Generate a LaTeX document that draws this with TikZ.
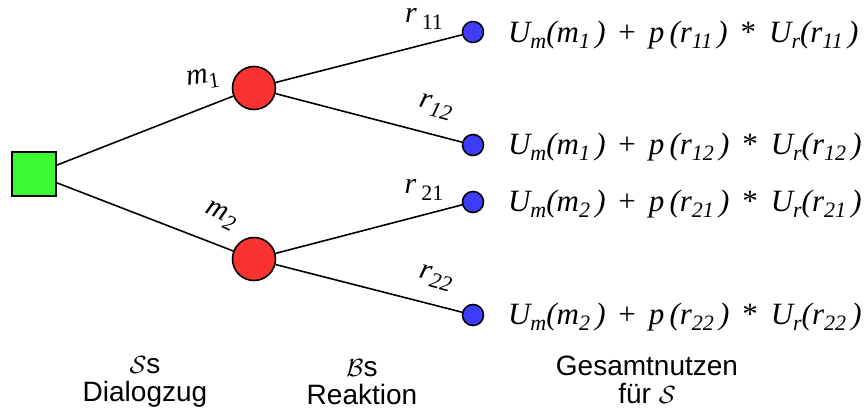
\documentclass[tikz,border=0pt]{standalone}
\usepackage{fontspec}
\setmainfont{Liberation Serif}
\setsansfont{Liberation Sans}
\usetikzlibrary{positioning}
\definecolor{rootgreen}{RGB}{60,250,50}
\definecolor{chancered}{RGB}{250,50,50}
\definecolor{leafblue}{RGB}{60,60,250}
\newcommand{\idx}[1]{\raisebox{-6.5pt}{\fontsize{22}{22}\selectfont #1}}
\newcommand{\nutzen}[3]{U\idx{m}(m\idx{#1}\,) {\upshape\,+\,} p\,(r\idx{#2}\,) {\upshape\,*\,} U\idx{r}(r\idx{#3}\,)}
\begin{document}
\begin{tikzpicture}[x=1pt,y=-1pt, line width=1.6pt,
    root/.style={draw, fill=rootgreen, minimum size=44pt, inner sep=0pt},
    chance/.style={circle, draw, fill=chancered, minimum size=43pt, inner sep=0pt},
    leaf/.style={circle, draw, fill=leafblue, minimum size=21pt, inner sep=0pt},
    formula/.style={font=\fontsize{31}{34}\selectfont\itshape, anchor=base west, inner sep=0pt},
    lbl/.style={font=\fontsize{30}{34}\selectfont\itshape, inner sep=0pt},
    caption/.style={font=\sffamily\fontsize{28}{28}\selectfont, align=center, inner sep=0pt}]
  \useasboundingbox (0,0) rectangle (867,410);

  % Knoten
  \node[root] (s) at (34,174) {};
  \node[chance] (m1) at (254,88) {};
  \node[chance] (m2) at (254,259) {};
  \node[leaf] (r11) at (473,32) {};
  \node[leaf] (r12) at (473,145) {};
  \node[leaf] (r21) at (473,202) {};
  \node[leaf] (r22) at (473,315) {};

  % Kanten
  \draw (s) -- (m1);
  \draw (s) -- (m2);
  \draw (m1) -- (r11);
  \draw (m1) -- (r12);
  \draw (m2) -- (r21);
  \draw (m2) -- (r22);

  % Kantenbeschriftung
  \node[lbl, rotate=8] (lm1) at (203,79) {m\idx{\upshape 1}};
  \node[lbl, rotate=-25] (lm2) at (221,216) {m\idx{2}};
  \node[lbl] (lr11) at (424,19) {r\,\idx{\upshape 11}};
  \node[lbl, rotate=-15] (lr12) at (436,107) {r\idx{12}};
  \node[lbl] (lr21) at (424,190) {r\,\idx{\upshape 21}};
  \node[lbl, rotate=-15] (lr22) at (436,278) {r\idx{22}};

  % Gesamtnutzen
  \node[formula] (u11) at ([xshift=23pt, yshift=-10pt]r11.east) {\nutzen{1}{11}{11}};
  \node[formula] (u12) at ([xshift=23pt, yshift=-9pt]r12.east) {\nutzen{1}{12}{12}};
  \node[formula] (u21) at ([xshift=23pt, yshift=-9pt]r21.east) {\nutzen{2}{21}{21}};
  \node[formula] (u22) at ([xshift=23pt, yshift=-9pt]r22.east) {\nutzen{2}{22}{22}};

  % Spalten
  \node[caption] (c1) at (145,382) {$\mathcal{S}$s\\Dialogzug};
  \node[caption] (c2) at (362,382) {$\mathcal{B}$s\\Reaktion};
  \node[caption] (c3) at (647,380) {Gesamtnutzen\\f\"ur $\mathcal{S}$};
\end{tikzpicture}
\end{document}
